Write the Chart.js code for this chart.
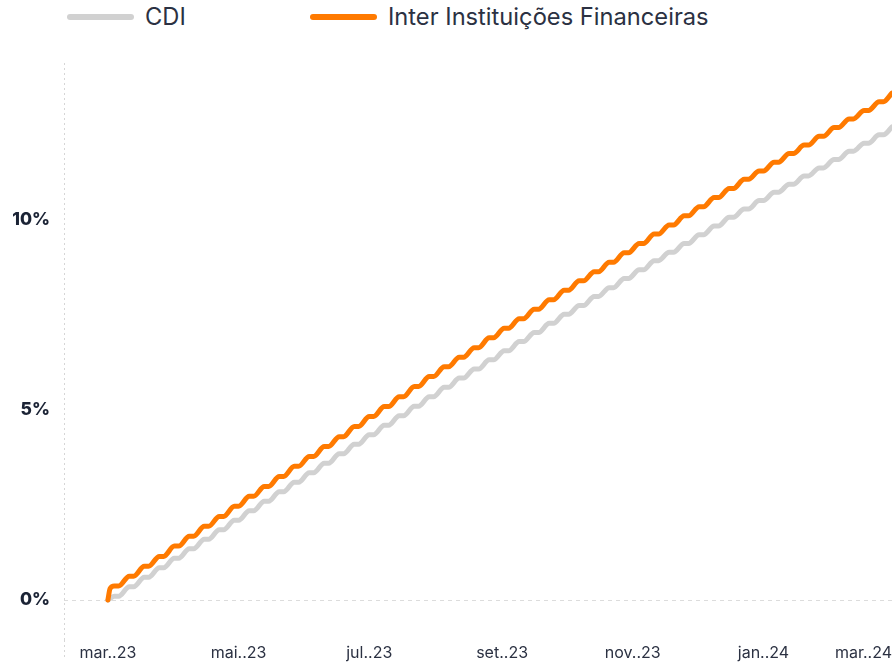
<!DOCTYPE html>
<html lang="pt-BR">
<head>
<meta charset="utf-8">
<title>CDI x Inter Instituições Financeiras</title>
<script src="https://cdn.jsdelivr.net/npm/chart.js@4.4.1/dist/chart.umd.min.js"></script>
<style>
  html, body { margin: 0; padding: 0; background: #fff; }
  body { width: 892px; height: 666px; position: relative; overflow: hidden; font-family: Inter, 'Open Sans', sans-serif; }
  .legend-item { position: absolute; top: 3px; display: flex; align-items: center; font-size: 23.7px; line-height: 28px; color: #2b3142; white-space: nowrap; }
  .legend-item i { display: block; width: 67px; height: 6px; border-radius: 3px; margin-right: 11px; }
  canvas { position: absolute; left: 0; top: 0; }
</style>
</head>
<body>
<div id="legend"></div>
<canvas id="grafico" width="892" height="666"></canvas>

<script>
// ── Dados ─────────────────────────────────────────────────
// rentabilidade acumulada (%) ao fim de cada semana, a partir de 01/03/2023
const inicio = '2023-03-01';
const fim    = '2024-03-01';

const cdiSemanal = [
  0.10, 0.35, 0.60, 0.85, 1.10, 1.35, 1.60, 1.85, 2.10, 2.35,
  2.60, 2.85, 3.10, 3.35, 3.60, 3.85, 4.10, 4.35, 4.60, 4.85,
  5.10, 5.35, 5.60, 5.84, 6.08, 6.32, 6.56, 6.80, 7.04, 7.28,
  7.52, 7.75, 7.99, 8.22, 8.46, 8.69, 8.93, 9.15, 9.38, 9.61,
  9.84, 10.07, 10.29, 10.51, 10.73, 10.94, 11.16, 11.37, 11.59, 11.81,
  12.02, 12.24, 12.45
];

const interSemanal = [
  0.37, 0.63, 0.89, 1.15, 1.42, 1.68, 1.94, 2.20, 2.47, 2.73,
  2.99, 3.25, 3.52, 3.78, 4.04, 4.30, 4.57, 4.83, 5.09, 5.35,
  5.62, 5.88, 6.14, 6.39, 6.64, 6.90, 7.15, 7.40, 7.65, 7.90,
  8.15, 8.40, 8.64, 8.89, 9.14, 9.38, 9.63, 9.87, 10.11, 10.35,
  10.59, 10.83, 11.07, 11.29, 11.52, 11.75, 11.97, 12.20, 12.43, 12.66,
  12.88, 13.11, 13.34
];
const interPrimeiroDia = 0.30;

const meses     = ['mar..23', 'mai..23', 'jul..23', 'set..23', 'nov..23', 'jan..24', 'mar..24'];
const mesesData = ['2023-03-01', '2023-05-01', '2023-07-01', '2023-09-01', '2023-11-01', '2024-01-01', '2024-03-01'];
const yTicks    = [0, 5, 10];

const series = [
  { label: 'CDI',                           data: cdiSemanal,   cor: '#d1d1d1' },
  { label: 'Inter Instituições Financeiras', data: interSemanal, cor: '#ff7a00' },
];

// ── Helpers ───────────────────────────────────────────────
const DIA = 86400000;
const dia = s => Math.round((Date.parse(s) - Date.parse(inicio)) / DIA);

// sábado a segunda sem rendimento: o valor da semana fica parado no fim de semana
function pontos(semanal, primeiroDia) {
  const pts = [{ x: 0, y: 0 }];
  if (primeiroDia != null) pts.push({ x: 1, y: primeiroDia });
  semanal.forEach((v, k) => {
    if (k === semanal.length - 1) { pts.push({ x: dia(fim), y: v }); return; }
    pts.push({ x: 3 + 7 * k, y: v });
    pts.push({ x: 5 + 7 * k, y: v });
  });
  return pts;
}

// ── Legenda ───────────────────────────────────────────────
const legendPos = [67, 310];
document.querySelector('#legend').innerHTML = series.map((s, i) =>
  `<div class="legend-item" style="left:${legendPos[i]}px"><i style="background:${s.cor}"></i>${s.label}</div>`
).join('');

// ── Gráfico ───────────────────────────────────────────────
const tickDias = mesesData.map(dia);
const corEixo  = '#d6d6d6';
const fonte    = 'Inter, "Open Sans", sans-serif';

new Chart(document.getElementById('grafico'), {
  type: 'line',
  data: {
    datasets: [
      {
        label: series[0].label,
        data: pontos(series[0].data),
        borderColor: series[0].cor,
        borderWidth: 5,
        order: 1,
      },
      {
        label: series[1].label,
        data: pontos(series[1].data, interPrimeiroDia),
        borderColor: series[1].cor,
        borderWidth: 5,
        order: 0,
      },
    ]
  },
  options: {
    responsive: false,
    animation: false,
    devicePixelRatio: 1,
    layout: { padding: { top: 63, right: 0, bottom: 0, left: 0 } },
    elements: {
      point: { radius: 0, hoverRadius: 0 },
      line: { cubicInterpolationMode: 'monotone', borderCapStyle: 'round', borderJoinStyle: 'round', fill: false },
    },
    plugins: {
      legend: { display: false },
      tooltip: { enabled: false },
    },
    scales: {
      x: {
        type: 'linear',
        min: -20.5,
        max: dia(fim),
        afterBuildTicks: s => { s.ticks = [{ value: s.min }, ...tickDias.map(v => ({ value: v }))]; },
        afterFit: s => { s.height = 26; },
        ticks: {
          autoSkip: false,
          maxRotation: 0,
          align: 'inner',
          padding: -14,
          color: '#2b3142',
          font: { family: fonte, size: 16 },
          callback: (v, i) => i === 0 ? '' : meses[i - 1],
        },
        grid: {
          color: ctx => ctx.index === 0 ? corEixo : 'transparent',
          tickColor: ctx => ctx.index === 0 ? corEixo : 'transparent',
          tickLength: 18,
          tickBorderDash: [2, 3],
          lineWidth: 1,
        },
        border: { display: false, dash: [2, 3] },
      },
      y: {
        min: -1.05,
        max: 14.13,
        afterBuildTicks: s => { s.ticks = yTicks.map(v => ({ value: v })); },
        afterFit: s => { s.width = 64; },
        ticks: {
          padding: 14,
          color: '#1b2335',
          font: { family: fonte, size: 17.5, weight: '800' },
          callback: v => v + '%',
        },
        grid: {
          color: ctx => ctx.tick && ctx.tick.value === 0 ? '#dcdcdc' : 'transparent',
          drawTicks: false,
          lineWidth: 1,
        },
        border: { display: false, dash: [4, 4] },
      },
    },
  },
});
</script>
</body>
</html>
